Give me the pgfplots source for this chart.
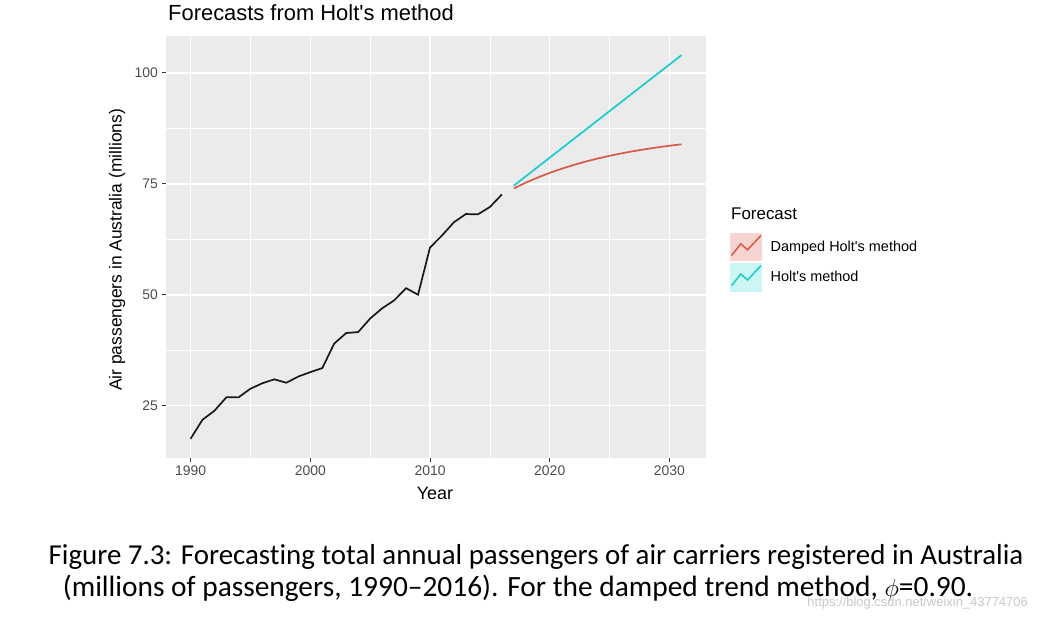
\documentclass[border=0pt]{standalone}
\usepackage{fontspec}
\setmainfont{Liberation Sans}
\newfontfamily\calibri[Ligatures=NoCommon]{Carlito}
\usepackage{pgfplots}
\pgfplotsset{compat=1.18}
\definecolor{panelbg}{HTML}{EBEBEB}
\definecolor{ticklab}{HTML}{4D4D4D}
\definecolor{tickc}{HTML}{333333}
\definecolor{dampc}{HTML}{D65A44}
\definecolor{holtc}{HTML}{19CCCC}
\definecolor{dampfill}{HTML}{F8D4D0}
\definecolor{holtfill}{HTML}{CCF5F5}
\begin{document}
\begin{tikzpicture}
\path[use as bounding box] (0,0) rectangle (1038bp,620bp);
\begin{axis}[
  at={(166bp,162bp)}, anchor=south west,
  scale only axis, width=540bp, height=422bp,
  xmin=1987.95, xmax=2033.05, ymin=13.23, ymax=108.31,
  xtick={1990,2000,2010,2020,2030},
  xticklabels={1990,2000,2010,2020,2030},
  ytick={25,50,75,100},
  yticklabels={25,50,75,100},
  minor xtick={1995,2005,2015,2025},
  minor ytick={37.5,62.5,87.5},
  grid=both,
  major grid style={white, line width=1.4bp},
  minor grid style={white, line width=0.7bp},
  axis background/.style={fill=panelbg},
  axis line style={draw=none},
  tick align=outside,
  xtick pos=bottom, ytick pos=left,
  major tick length=4.5bp, minor tick length=0pt,
  tick style={color=tickc, line width=1bp},
  ticklabel style={font=\fontsize{14}{16}\selectfont, text=ticklab},
  xlabel={Year},
  xlabel style={at={(axis description cs:0.498,-0.083)}, anchor=center, font=\fontsize{18}{20}\selectfont},
  ylabel={Air passengers in Australia (millions)},
  ylabel style={at={(axis description cs:-0.0907,0.493)}, anchor=center, font=\fontsize{17.5}{20}\selectfont},
  legend cell align=left,
  legend style={at={(axis description cs:1.0444,0.5339)}, anchor=north west,
    draw=none, fill=none, inner sep=0pt, outer sep=0pt,
    row sep=1.5bp, font=\fontsize{14.5}{17}\selectfont,
    nodes={inner sep=0pt}},
]
\addplot[black!90, line width=1.7bp, forget plot] coordinates {
(1990,17.5534) (1991,21.8601) (1992,23.8866) (1993,26.9293) (1994,26.8885)
(1995,28.8314) (1996,30.0752) (1997,30.9535) (1998,30.1857) (1999,31.5797)
(2000,32.5776) (2001,33.4774) (2002,39.0216) (2003,41.3864) (2004,41.5966)
(2005,44.6573) (2006,46.9517) (2007,48.7288) (2008,51.4885) (2009,50.0270)
(2010,60.6406) (2011,63.3603) (2012,66.3552) (2013,68.1979) (2014,68.1234)
(2015,69.7795) (2016,72.5971)};
\addplot[dampc, line width=1.7bp,
  legend image code/.code={
    \fill[dampfill] (0bp,-13.5bp) rectangle (30bp,13.5bp);
    \draw[dampc, line width=1.5bp] (0.7bp,-8.5bp) -- (10bp,3.2bp) -- (16.7bp,-2.8bp) -- (30bp,11.5bp);
    \path (39bp,0bp);}] coordinates {
(2017,73.98) (2018,75.27) (2019,76.43) (2020,77.47) (2021,78.41)
(2022,79.26) (2023,80.02) (2024,80.70) (2025,81.32) (2026,81.87)
(2027,82.37) (2028,82.82) (2029,83.22) (2030,83.59) (2031,83.91)};
\addlegendentry{Damped Holt\textquotesingle s method}
\addplot[holtc, line width=1.7bp,
  legend image code/.code={
    \fill[holtfill] (0bp,-13.5bp) rectangle (30bp,13.5bp);
    \draw[holtc, line width=1.5bp] (0.7bp,-8.5bp) -- (10bp,3.2bp) -- (16.7bp,-2.8bp) -- (30bp,11.5bp);
    \path (39bp,0bp);}] coordinates {
(2017,74.60) (2018,76.70) (2019,78.80) (2020,80.90) (2021,83.00)
(2022,85.10) (2023,87.20) (2024,89.30) (2025,91.40) (2026,93.50)
(2027,95.60) (2028,97.70) (2029,99.80) (2030,101.89) (2031,103.99)};
\addlegendentry{Holt\textquotesingle s method}
\end{axis}
\node[anchor=base west, font=\fontsize{22}{26}\selectfont, inner sep=0pt] at (168bp,599.3bp) {Forecasts from Holt\textquotesingle s method};
\node[anchor=base west, font=\fontsize{17}{20}\selectfont, inner sep=0pt] at (731bp,400.5bp) {Forecast};
\node[anchor=base, font=\calibri\fontsize{29}{34}\selectfont, inner sep=0pt] at (536bp,55bp) {Figure 7.3: Forecasting total annual passengers of air carriers registered in Australia};
\node[anchor=base, font=\calibri\fontsize{29.5}{34}\selectfont, inner sep=0pt] at (518bp,24bp) {(millions of passengers, 1990–2016). For the damped trend method, $\phi$=0.90.};
\node[anchor=base east, font=\fontsize{13}{15}\selectfont, text=black!22, inner sep=0pt] at (1028bp,14bp) {https://blog.csdn.net/weixin\_43774706};
\end{tikzpicture}
\end{document}
